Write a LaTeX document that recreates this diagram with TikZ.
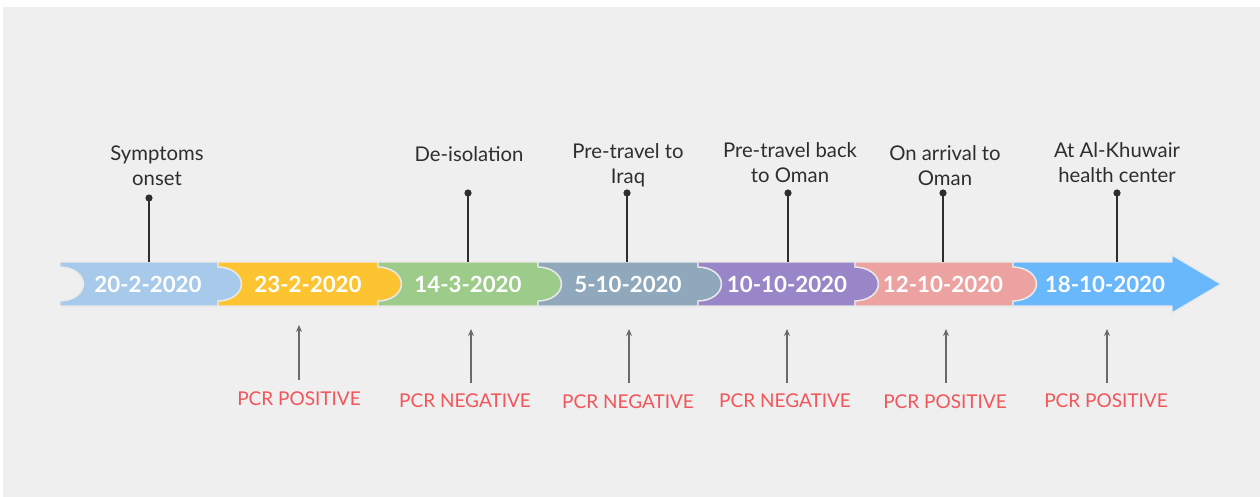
\documentclass[tikz,border=0pt]{standalone}
\usepackage{fontspec}
\setmainfont{Lato}
\usetikzlibrary{arrows.meta}
\definecolor{bg}{HTML}{EFEFEF}
\definecolor{sepc}{HTML}{E9E9E9}
\definecolor{cA}{HTML}{A8CAEA}
\definecolor{cB}{HTML}{FDC432}
\definecolor{cC}{HTML}{9DCB89}
\definecolor{cD}{HTML}{8FA8BC}
\definecolor{cE}{HTML}{9986C8}
\definecolor{cF}{HTML}{EDA2A2}
\definecolor{cG}{HTML}{69B8FC}
\definecolor{pcr}{HTML}{F2555A}
\definecolor{txt}{HTML}{2E2E2E}
\definecolor{arr}{HTML}{6A6A6A}
% segment: #1 left x, #2 right x
\newcommand\segshape[2]{(#1,262) -- (#2,262) -- (#2,267)
  .. controls ({#2+13.2},267) and ({#2+23.5},274.6) .. ({#2+23.5},284)
  .. controls ({#2+23.5},293.4) and ({#2+13.2},301) .. (#2,301)
  -- (#2,306) -- (#1,306) -- (#1,301)
  .. controls ({#1+13.2},301) and ({#1+23.5},293.4) .. ({#1+23.5},284)
  .. controls ({#1+23.5},274.6) and ({#1+13.2},267) .. (#1,267) -- cycle}
\tikzset{
  segbox/.style={draw=sepc, line width=1.4pt, line join=round},
  datelbl/.style={text=white, font=\fontsize{22.3}{26}\selectfont\bfseries, inner sep=0pt},
  toplbl/.style={text=txt, font=\fontsize{20.3}{25}\selectfont, align=center, inner sep=0pt},
  pcrlbl/.style={text=pcr, font=\fontsize{19}{22}\selectfont, inner sep=0pt},
  stem/.style={draw=txt, line width=1.8pt},
  pindot/.style={fill=txt},
  uparrow/.style={draw=arr, line width=1.1pt, -{Stealth[length=7pt,width=6pt]}}
}
\begin{document}
\begin{tikzpicture}[x=1pt,y=-1pt]
\useasboundingbox (0,0) rectangle (1260,497);
\fill[white] (0,0) rectangle (1260,497);
\fill[bg] (3,7) rectangle (1260,497);

% segments
\path[segbox, fill=cA] \segshape{60}{218};
\path[segbox, fill=cB] \segshape{218}{378};
\path[segbox, fill=cC] \segshape{378}{538};
\path[segbox, fill=cD] \segshape{538}{698};
\path[segbox, fill=cE] \segshape{698}{855};
\path[segbox, fill=cF] \segshape{855}{1013};
\path[segbox, fill=cG] (1013,262) -- (1172,262) -- (1172,255) -- (1221,284)
  -- (1172,313) -- (1172,306) -- (1013,306) -- (1013,301)
  .. controls (1026.2,301) and (1036.5,293.4) .. (1036.5,284)
  .. controls (1036.5,274.6) and (1026.2,267) .. (1013,267) -- cycle;

% date labels
\node[datelbl] (d1) at (148,284) {20-2-2020};
\node[datelbl] (d2) at (308,284) {23-2-2020};
\node[datelbl] (d3) at (468,284) {14-3-2020};
\node[datelbl] (d4) at (628,284) {5-10-2020};
\node[datelbl] (d5) at (787,284) {10-10-2020};
\node[datelbl] (d6) at (943,284) {12-10-2020};
\node[datelbl] (d7) at (1105,284) {18-10-2020};

% band top anchors for stems
\coordinate (s1) at (149,262);
\coordinate (s3) at (468,262);
\coordinate (s4) at (627,262);
\coordinate (s5) at (788,262);
\coordinate (s6) at (943,262);
\coordinate (s7) at (1117,262);
% pin heads
\coordinate (h1) at (149,198);
\coordinate (h3) at (468,193);
\coordinate (h4) at (627,193);
\coordinate (h5) at (788,193);
\coordinate (h6) at (943,193);
\coordinate (h7) at (1117,193);
\foreach \i in {1,3,4,5,6,7}{
  \draw[stem] (h\i) -- (s\i);
  \fill[pindot] (h\i) circle (3.6);
}

% top labels
\node[toplbl] (t1) at (157,166) {Symptoms\\onset};
\node[toplbl] (t3) at (469,154) {De-isolation};
\node[toplbl] (t4) at (628,165.5) {Pre-travel to\\Iraq};
\node[toplbl] (t5) at (790,162.5) {Pre-travel back\\to Oman};
\node[toplbl] (t6) at (945,165.5) {On arrival to\\Oman};
\node[toplbl] (t7) at (1117,163) {At Al-Khuwair\\health center};

% bottom PCR labels
\node[pcrlbl] (p2) at (299,399) {PCR POSITIVE};
\node[pcrlbl] (p3) at (465,401) {PCR NEGATIVE};
\node[pcrlbl] (p4) at (628,402) {PCR NEGATIVE};
\node[pcrlbl] (p5) at (785,401) {PCR NEGATIVE};
\node[pcrlbl] (p6) at (945,402) {PCR POSITIVE};
\node[pcrlbl] (p7) at (1106,401) {PCR POSITIVE};

% arrow tips (free ends)
\coordinate (a2) at (299,325);
\coordinate (a3) at (471,329);
\coordinate (a4) at (629,329);
\coordinate (a5) at (787,329);
\coordinate (a6) at (946,329);
\coordinate (a7) at (1107,329);
\coordinate (b2) at (299,380);
\coordinate (b3) at (471,383);
\coordinate (b4) at (629,383);
\coordinate (b5) at (787,383);
\coordinate (b6) at (946,383);
\coordinate (b7) at (1107,383);
\foreach \i in {2,...,7}{
  \draw[uparrow] (b\i) -- (a\i);
}
\end{tikzpicture}
\end{document}
